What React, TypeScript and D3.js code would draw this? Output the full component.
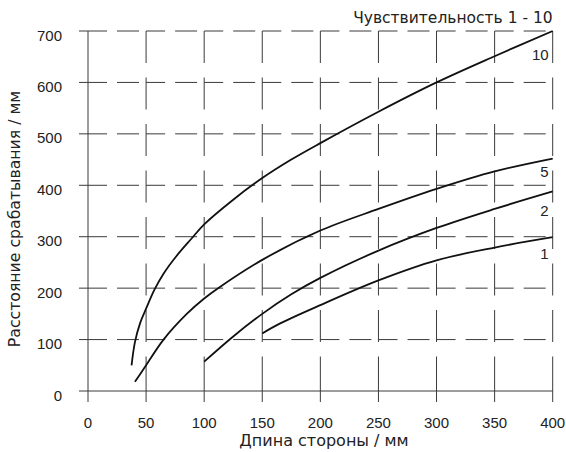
import React from "react";
import * as d3 from "d3";

// sensitivity curves: side length (mm) -> switching distance (mm)
const len10 = [37.5, 40.4, 45, 50, 57, 65, 76, 89, 100, 125, 150, 175, 200, 250, 300, 350, 400];
const dist10 = [50, 95, 133, 160, 196, 228, 262, 296, 324, 372, 414, 450, 482, 543, 600, 651, 700];

const len5 = [40.4, 45, 50, 65, 85, 100, 112, 150, 200, 250, 300, 350, 400];
const dist5 = [18, 33, 50, 100, 150, 180, 200, 255, 312, 354, 393, 427, 452];

const len2 = [100, 125, 150, 175, 200, 250, 300, 350, 400];
const dist2 = [57, 106, 150, 188, 220, 273, 317, 354, 388];

const len1 = [150, 165, 200, 250, 300, 350, 400];
const dist1 = [112, 131, 167, 215, 254, 279, 299];

const curveLabels = ["10", "5", "2", "1"];
const labelAt = [655, 427, 351, 267]; // distance value where each label sits

const xTicks = [0, 50, 100, 150, 200, 250, 300, 350, 400];
const yTicks = [0, 100, 200, 300, 400, 500, 600, 700];

const title = "Чувствительность 1 - 10";
const xTitle = "Дпина стороны / мм";
const yTitle = "Расстояние срабатывания / мм";

const W = 566;
const H = 452;

export default function App() {
  const x = d3.scaleLinear().domain([0, 400]).range([88, 552.7]);
  const y = d3.scaleLinear().domain([0, 700]).range([391, 31]);

  const series = [
    { xs: len10, ys: dist10 },
    { xs: len5, ys: dist5 },
    { xs: len2, ys: dist2 },
    { xs: len1, ys: dist1 },
  ];

  const line = d3
    .line<[number, number]>()
    .x((d) => x(d[0]))
    .y((d) => y(d[1]))
    .curve(d3.curveCatmullRom.alpha(0.5));

  const grid = "#3a3a3a";
  const tickFont = "'Liberation Sans', Arial, sans-serif";
  const titleFont = "'DejaVu Sans', Verdana, sans-serif";
  const vDash = "32 14.5 32 14.5 32 14.5 32 14.5 32 14.5 32 14.5 32 14.5 60";

  return (
    <svg
      width={W}
      height={H}
      style={{ position: "absolute", left: 0, top: 0, background: "#fff" }}
    >
      {/* horizontal grid */}
      {yTicks.map((t) => (
        <g key={"h" + t}>
          <line x1={79} x2={x(0)} y1={y(t)} y2={y(t)} stroke={grid} strokeWidth={1} />
          <line
            x1={x(0)}
            x2={x(400)}
            y1={y(t)}
            y2={y(t)}
            stroke={grid}
            strokeWidth={1}
            strokeDasharray={t === 0 ? undefined : "19 10 22 7.1"}
          />
        </g>
      ))}
      {/* vertical grid */}
      {xTicks.map((t) => (
        <line
          key={"v" + t}
          x1={x(t)}
          x2={x(t)}
          y1={y(700)}
          y2={y(0) + 11}
          stroke={grid}
          strokeWidth={1}
          strokeDasharray={t === 0 ? undefined : vDash}
        />
      ))}

      {/* tick labels */}
      {xTicks.map((t) => (
        <text
          key={"xl" + t}
          x={x(t)}
          y={427.5}
          textAnchor="middle"
          fontFamily={tickFont}
          fontSize={15}
          fill="#222"
        >
          {t}
        </text>
      ))}
      {yTicks.map((t) => (
        <text
          key={"yl" + t}
          x={62}
          y={y(t) + 9.5}
          textAnchor="end"
          fontFamily={tickFont}
          fontSize={15}
          fill="#222"
        >
          {t}
        </text>
      ))}

      {/* curves */}
      {series.map((s, i) => (
        <path
          key={"c" + i}
          d={line(s.xs.map((v, j) => [v, s.ys[j]] as [number, number])) || ""}
          fill="none"
          stroke="#111"
          strokeWidth={1.8}
        />
      ))}

      {/* curve labels */}
      {curveLabels.map((l, i) => (
        <text
          key={"lb" + i}
          x={x(400) - 4}
          y={y(labelAt[i]) + 5.5}
          textAnchor="end"
          fontFamily={tickFont}
          fontSize={15}
          fill="#222"
        >
          {l}
        </text>
      ))}

      {/* titles */}
      <text
        x={x(400)}
        y={23}
        textAnchor="end"
        fontFamily={titleFont}
        fontSize={15.5}
        fill="#222"
      >
        {title}
      </text>
      <text
        x={324}
        y={445.5}
        textAnchor="middle"
        fontFamily={titleFont}
        fontSize={16}
        fill="#222"
      >
        {xTitle}
      </text>
      <text
        transform={`translate(20,${(y(0) + y(700)) / 2 + 8}) rotate(-90)`}
        textAnchor="middle"
        fontFamily={titleFont}
        fontSize={15.7}
        fill="#222"
      >
        {yTitle}
      </text>
    </svg>
  );
}
